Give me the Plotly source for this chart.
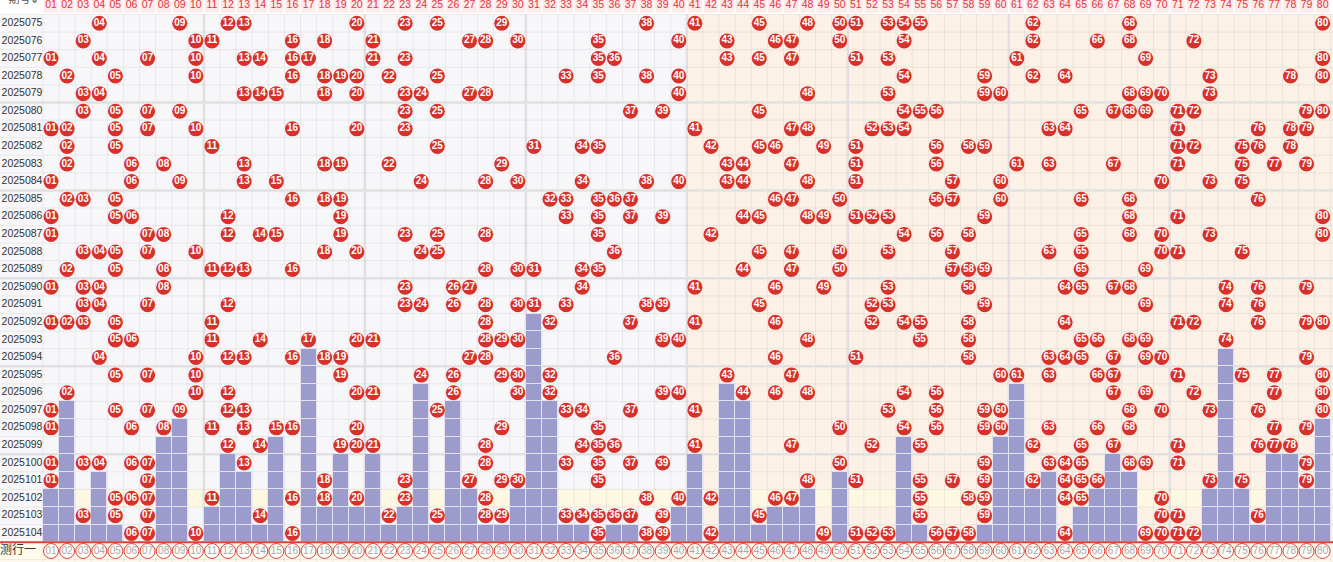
import plotly.graph_objects as go

# ---------------- data ----------------
periods = ["2025075", "2025076", "2025077", "2025078", "2025079", "2025080",
           "2025081", "2025082", "2025083", "2025084", "2025085", "2025086",
           "2025087", "2025088", "2025089", "2025090", "2025091", "2025092",
           "2025093", "2025094", "2025095", "2025096", "2025097", "2025098",
           "2025099", "2025100", "2025101", "2025102", "2025103", "2025104"]

draws = [
    [4, 9, 12, 13, 20, 23, 25, 29, 38, 41, 45, 48, 50, 51, 53, 54, 55, 62, 68, 80],
    [3, 10, 11, 16, 18, 21, 27, 28, 30, 35, 40, 43, 46, 47, 50, 54, 62, 66, 68, 72],
    [1, 4, 7, 10, 13, 14, 16, 17, 21, 23, 35, 36, 43, 45, 47, 51, 53, 61, 69, 80],
    [2, 5, 10, 16, 18, 19, 20, 22, 25, 33, 35, 38, 40, 54, 59, 62, 64, 73, 78, 80],
    [3, 4, 13, 14, 15, 18, 20, 23, 24, 27, 28, 40, 48, 53, 59, 60, 68, 69, 70, 73],
    [3, 5, 7, 9, 23, 25, 37, 39, 45, 54, 55, 56, 65, 67, 68, 69, 71, 72, 79, 80],
    [1, 2, 5, 7, 10, 16, 20, 23, 41, 47, 48, 52, 53, 54, 63, 64, 71, 76, 78, 79],
    [2, 5, 11, 25, 31, 34, 35, 42, 45, 46, 49, 51, 56, 58, 59, 71, 72, 75, 76, 78],
    [2, 6, 8, 13, 18, 19, 22, 29, 43, 44, 47, 51, 56, 61, 63, 67, 71, 75, 77, 79],
    [1, 6, 9, 13, 15, 24, 28, 30, 34, 38, 40, 43, 44, 48, 51, 57, 60, 70, 73, 75],
    [2, 3, 5, 16, 18, 19, 32, 33, 35, 36, 37, 46, 47, 50, 56, 57, 60, 65, 68, 76],
    [1, 5, 6, 12, 19, 33, 35, 37, 39, 44, 45, 48, 49, 51, 52, 53, 59, 68, 71, 80],
    [1, 7, 8, 12, 14, 15, 19, 23, 25, 28, 35, 42, 54, 56, 58, 65, 68, 70, 73, 80],
    [3, 4, 5, 7, 10, 18, 20, 24, 25, 36, 45, 47, 50, 53, 57, 63, 65, 70, 71, 75],
    [2, 5, 8, 11, 12, 13, 16, 28, 30, 31, 34, 35, 44, 47, 50, 57, 58, 59, 65, 69],
    [1, 3, 4, 8, 23, 26, 27, 34, 41, 46, 49, 53, 58, 64, 65, 67, 68, 74, 76, 79],
    [3, 4, 7, 12, 23, 24, 26, 28, 30, 31, 33, 38, 39, 45, 52, 53, 59, 69, 74, 76],
    [1, 2, 3, 5, 11, 28, 32, 37, 41, 46, 52, 54, 55, 58, 64, 71, 72, 76, 79, 80],
    [5, 6, 11, 14, 17, 20, 21, 28, 29, 30, 39, 40, 48, 55, 58, 65, 66, 68, 69, 74],
    [4, 10, 12, 13, 16, 18, 19, 27, 28, 36, 46, 51, 58, 63, 64, 65, 67, 69, 70, 79],
    [5, 7, 10, 19, 24, 26, 29, 30, 32, 43, 47, 60, 61, 63, 66, 67, 71, 75, 77, 80],
    [2, 10, 12, 20, 21, 26, 30, 32, 39, 40, 44, 46, 48, 54, 56, 67, 69, 72, 77, 80],
    [1, 5, 7, 9, 12, 13, 25, 33, 34, 37, 41, 53, 56, 59, 60, 68, 70, 73, 76, 80],
    [1, 6, 8, 11, 13, 15, 16, 20, 29, 35, 50, 54, 56, 59, 60, 63, 66, 68, 77, 79],
    [12, 14, 19, 20, 21, 28, 34, 35, 36, 41, 47, 52, 55, 62, 65, 67, 71, 76, 77, 78],
    [1, 3, 4, 6, 7, 13, 28, 33, 35, 37, 39, 50, 59, 63, 64, 65, 68, 69, 71, 79],
    [1, 7, 18, 23, 27, 29, 30, 35, 48, 51, 55, 57, 59, 62, 64, 65, 66, 73, 75, 79],
    [5, 6, 7, 11, 16, 18, 20, 23, 28, 38, 40, 42, 46, 47, 55, 58, 59, 64, 65, 70],
    [3, 5, 7, 14, 22, 25, 28, 29, 33, 34, 35, 36, 37, 39, 45, 55, 59, 70, 71, 76],
    [6, 7, 10, 16, 35, 38, 39, 42, 49, 51, 52, 53, 56, 57, 58, 64, 69, 70, 71, 72],
]

numbers = list(range(1, 81))
number_labels = ["%02d" % n for n in numbers]
highlight_period = "2025102"
predict_labels = ["预测行一", "预测行二"]
corner_label = "期号⇕"

# ---------------- geometry (pixel mapping) ----------------
W, H = 1333, 562
COL_PX = 16.097      # px per column
X1_PX = 51.0         # pixel centre of column 01
ROW_PX = 17.59       # px per row
Y0_PX = 23.3         # pixel centre of first period row

x_lo = 1 - X1_PX / COL_PX
x_hi = 1 + (W - X1_PX) / COL_PX
y_top = -Y0_PX / ROW_PX
y_bot = (H - Y0_PX) / ROW_PX

def px_x(p):
    return 1 + (p - X1_PX) / COL_PX

def px_y(p):
    return (p - Y0_PX) / ROW_PX

nrows = len(periods)
hl_row = periods.index(highlight_period)

# current omission per number (periods since last appearance, counted from bottom)
omission = []
for n in numbers:
    k = 0
    for r in range(nrows - 1, -1, -1):
        if n in draws[r]:
            break
        k += 1
    omission.append(k)

bar_x, bar_base = [], []
for n, k in zip(numbers, omission):
    for j in range(k):
        bar_x.append(n)
        bar_base.append(nrows - 1 - j - 0.5)

hit_x, hit_y, hit_t = [], [], []
for r, row in enumerate(draws):
    for n in row:
        hit_x.append(n)
        hit_y.append(r)
        hit_t.append("%02d" % n)

# ---------------- shapes ----------------
shapes = []
GRAY_BG = "#f7f6f8"
ORANGE_BG = "#fbf1e6"
YELLOW_BG = "#fdf8e2"
PRED_BG = "#fffcee"

def rect(x0, x1, y0, y1, color, layer="below"):
    shapes.append(dict(type="rect", xref="x", yref="y", x0=x0, x1=x1, y0=y0, y1=y1,
                       fillcolor=color, line=dict(width=0), layer=layer))

def line(x0, x1, y0, y1, color, width, layer="below"):
    shapes.append(dict(type="line", xref="x", yref="y", x0=x0, x1=x1, y0=y0, y1=y1,
                       line=dict(color=color, width=width), layer=layer))

# header band
rect(x_lo, x_hi, y_top, -0.5, "#ffffff")
for n in numbers:
    rect(n - 0.45, n + 0.45, y_top, -0.6, "#fdebec")
# orange half
rect(40.5, x_hi, -0.5, nrows - 0.5, ORANGE_BG)
# highlighted row
rect(0.5, 80.5, hl_row - 0.5, hl_row + 0.5, YELLOW_BG)
# prediction rows
rect(x_lo, x_hi, nrows - 0.5, y_bot, PRED_BG)

# grid lines
for i in range(0, 82):
    xx = i + 0.5
    if i % 10 == 0 and i not in (0, 80):
        line(xx, xx, -0.5, nrows - 0.5, "#e2e0e2", 2.5)
    else:
        line(xx, xx, -0.5, nrows - 0.5, "rgba(0,0,0,0.06)", 1)
for r in range(0, nrows + 1):
    yy = r - 0.5
    if r % 5 == 0 and 0 < r < nrows:
        line(x_lo, x_hi, yy, yy, "#e2e0e2", 2.5)
    else:
        line(x_lo, x_hi, yy, yy, "rgba(0,0,0,0.06)", 1)
# prediction row separators
line(x_lo, x_hi, nrows + 0.5, nrows + 0.5, "#ece6dc", 1)
for i in range(0, 81):
    line(i + 0.5, i + 0.5, nrows - 0.5, y_bot, "rgba(0,0,0,0.05)", 1)
# red separator
line(x_lo, x_hi, nrows - 0.5, nrows - 0.5, "#d9433c", 2, layer="above")

# ---------------- traces ----------------
fig = go.Figure()

fig.add_trace(go.Bar(
    x=bar_x, y=[1] * len(bar_x), base=bar_base, width=1,
    marker=dict(color="#9b9bcc", line=dict(color="#e4e2ee", width=1)),
    hoverinfo="skip", showlegend=False))

fig.add_trace(go.Scatter(
    x=hit_x, y=hit_y, text=hit_t, mode="markers+text",
    marker=dict(size=15, color="#d7312b", line=dict(width=0)),
    textfont=dict(family="Liberation Sans", size=10, color="#ffffff", weight="bold"),
    textposition="middle center", hoverinfo="skip", showlegend=False, cliponaxis=False))

# prediction rows (hollow circles)
for k, lab in enumerate(predict_labels):
    fig.add_trace(go.Scatter(
        x=numbers, y=[nrows + k] * len(numbers), text=number_labels, mode="markers+text",
        marker=dict(size=15, color="rgba(255,255,255,0.6)", line=dict(color="#e0413b", width=1)),
        textfont=dict(family="Liberation Sans", size=10, color="#a9a9a9"),
        textposition="middle center", hoverinfo="skip", showlegend=False, cliponaxis=False))

# header numbers
fig.add_trace(go.Scatter(
    x=numbers, y=[px_y(5.5)] * len(numbers), text=number_labels, mode="text",
    textfont=dict(family="Liberation Sans", size=10.5, color="#e0353d"),
    hoverinfo="skip", showlegend=False, cliponaxis=False))

# period labels
fig.add_trace(go.Scatter(
    x=[px_x(22)] * nrows, y=list(range(nrows)), text=periods, mode="text",
    textfont=dict(family="Liberation Sans", size=10.5, color="#333333"),
    hoverinfo="skip", showlegend=False, cliponaxis=False))

# prediction labels
fig.add_trace(go.Scatter(
    x=[px_x(12)] * len(predict_labels), y=[nrows + k for k in range(len(predict_labels))],
    text=predict_labels, mode="text",
    textfont=dict(family="Noto Sans CJK SC", size=12, color="#333333"),
    hoverinfo="skip", showlegend=False, cliponaxis=False))

# corner label (partly clipped at the top)
fig.add_trace(go.Scatter(
    x=[px_x(24)], y=[px_y(0.5)], text=[corner_label], mode="text",
    textfont=dict(family="Noto Sans CJK SC", size=11, color="#555555"),
    hoverinfo="skip", showlegend=False, cliponaxis=False))

fig.update_layout(
    width=W, height=H, margin=dict(l=0, r=0, t=0, b=0),
    paper_bgcolor=GRAY_BG, plot_bgcolor=GRAY_BG,
    barmode="overlay", bargap=0, shapes=shapes,
    xaxis=dict(range=[x_lo, x_hi], visible=False, fixedrange=True),
    yaxis=dict(range=[y_bot, y_top], visible=False, fixedrange=True),
)

fig.write_html(
    "out.html",
    config={"displayModeBar": False},
    post_script="document.body.style.margin='0';document.body.style.overflow='hidden';",
)
